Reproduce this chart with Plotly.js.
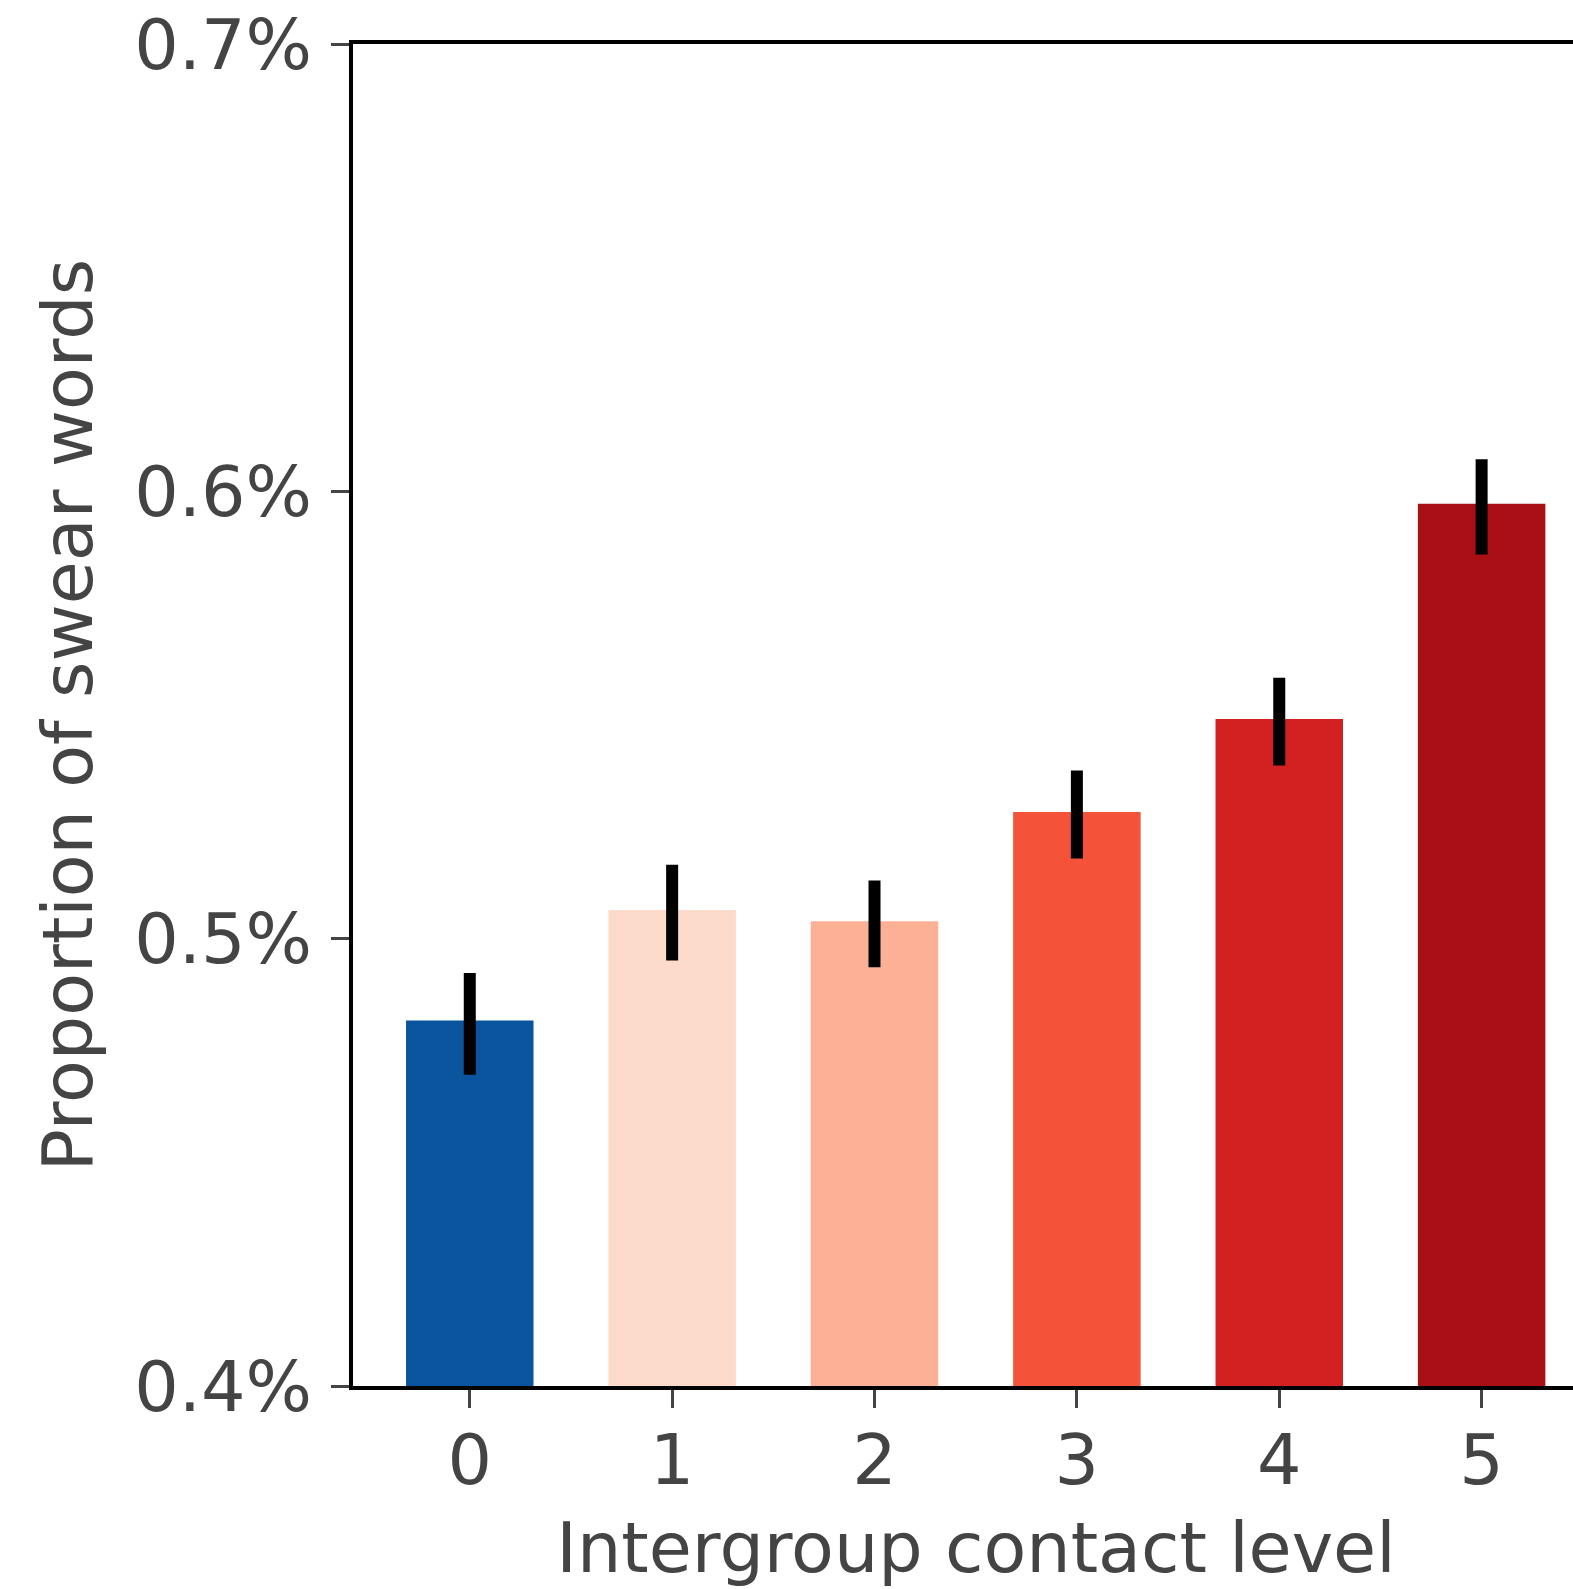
<!DOCTYPE html>
<html>
<head>
<meta charset="utf-8">
<script src="https://cdn.plot.ly/plotly-3.0.1.min.js"></script>
<style>
html, body { margin: 0; padding: 0; overflow: hidden; background: #fff; }
#chart { width: 1600px; height: 1589px; }
</style>
</head>
<body>
<div id="chart"></div>
<script>
const levels = [0, 1, 2, 3, 4, 5];
const proportion = [0.4817, 0.5064, 0.5039, 0.5283, 0.5491, 0.5972];
const ciUpper = [0.4923, 0.5165, 0.5130, 0.5376, 0.5583, 0.6072];
const ciLower = [0.4696, 0.4951, 0.4936, 0.5179, 0.5387, 0.5859];
const barColors = ['#0b559f', '#fddbcb', '#fcb095', '#f5523a', '#d32020', '#a91016'];
const yTicks = [0.4, 0.5, 0.6, 0.7];
const yTickText = ['0.4%', '0.5%', '0.6%', '0.7%'];

const font = { family: 'DejaVu Sans, sans-serif', size: 70, color: '#444444' };

const trace = {
  type: 'bar',
  x: levels,
  y: proportion,
  width: 0.63,
  marker: { color: barColors, line: { width: 0 } },
  error_y: {
    type: 'data',
    symmetric: false,
    array: proportion.map((v, i) => ciUpper[i] - v),
    arrayminus: proportion.map((v, i) => v - ciLower[i]),
    color: '#000000',
    thickness: 12,
    width: 0
  },
  hoverinfo: 'skip'
};

const layout = {
  width: 1600,
  height: 1589,
  margin: { l: 353, r: 1, t: 44, b: 203 },
  paper_bgcolor: '#ffffff',
  plot_bgcolor: '#ffffff',
  showlegend: false,
  font: font,
  xaxis: {
    range: [-0.577, 5.58],
    tickvals: levels,
    ticktext: levels.map(String),
    showgrid: false,
    zeroline: false,
    showline: true,
    linecolor: '#000000',
    linewidth: 4,
    mirror: true,
    ticks: 'outside',
    ticklen: 18,
    tickwidth: 3,
    tickcolor: '#444444',
    tickfont: font,
    ticklabelstandoff: -8,
    title: { text: 'Intergroup contact level', font: font, standoff: 44 },
    automargin: false
  },
  yaxis: {
    range: [0.4, 0.7],
    tickvals: yTicks,
    ticktext: yTickText,
    showgrid: false,
    zeroline: false,
    showline: true,
    linecolor: '#000000',
    linewidth: 4,
    mirror: false,
    ticks: 'outside',
    ticklen: 18,
    tickwidth: 3,
    tickcolor: '#444444',
    tickfont: font,
    ticklabelstandoff: 5,
    title: { text: 'Proportion of swear words', font: font, standoff: 20 },
    automargin: false
  }
};

Plotly.newPlot('chart', [trace], layout, { displayModeBar: false, staticPlot: true });
</script>
</body>
</html>
